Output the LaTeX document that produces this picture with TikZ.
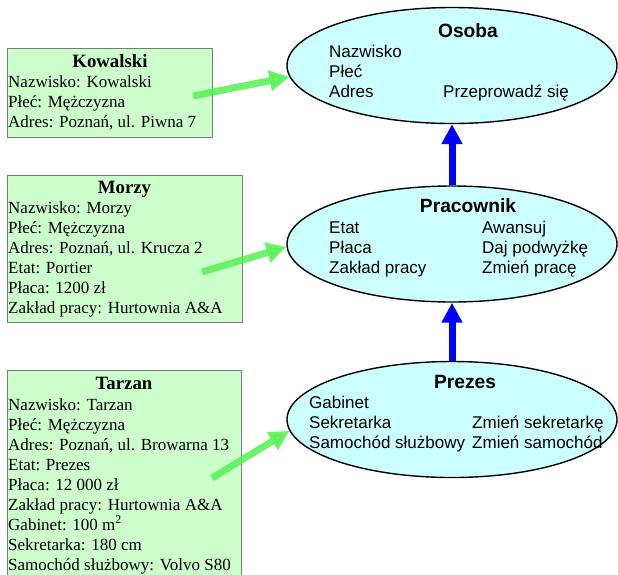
\documentclass[tikz,border=0pt]{standalone}
\usepackage{fontspec}
\setmainfont{Liberation Serif}
\setsansfont{Liberation Sans}
\usetikzlibrary{arrows.meta,shapes.geometric}
\definecolor{boxfill}{HTML}{CCFFCC}
\definecolor{boxline}{HTML}{7A7A7A}
\definecolor{ellfill}{HTML}{CCFFFF}
\definecolor{arrgreen}{HTML}{55F055}
\definecolor{arrblue}{HTML}{0000FF}
\tikzset{
  objbox/.style={draw=boxline, fill=boxfill, line width=1.2pt, anchor=north west, inner sep=0pt},
  classell/.style={ellipse, draw=black, fill=ellfill, line width=1.4pt, minimum width=330pt, minimum height=116pt, inner sep=0pt},
  serift/.style={font=\fontsize{17}{20}\selectfont, inner sep=0pt, align=left, anchor=base west},
  seriftitle/.style={font=\bfseries\fontsize{18.8}{20}\selectfont, inner sep=0pt, anchor=base},
  sanst/.style={font=\sffamily\fontsize{17}{20}\selectfont, inner sep=0pt, align=left, anchor=base west},
  sanstitle/.style={font=\sffamily\bfseries\fontsize{19.2}{20}\selectfont, inner sep=0pt, anchor=base},
  instarrow/.style={draw=arrgreen, line width=7pt, opacity=0.85, -{Triangle[length=20pt,width=20pt]}},
  inherarrow/.style={draw=arrblue, line width=7pt, -{Triangle[length=20pt,width=20pt]}},
}
\begin{document}
\begin{tikzpicture}[x=1pt,y=-1pt]
\useasboundingbox (0,0) rectangle (618,574);
\clip (0,0) rectangle (618,574);
% class ellipses
\node[classell] (osoba) at (452,65.5) {};
\node[classell] (pracownik) at (452,244) {};
\node[classell] (prezes) at (452,419.5) {};
% (multi-line nodes: base anchor = baseline of the last line)
\node[sanstitle] (osobaT) at (468,37) {Osoba};
\node[sanst] (osobaA) at (329,97) {Nazwisko\\Płeć\\Adres};
\node[sanst] (osobaM) at (443,97) {Przeprowadź się};
\node[sanstitle] (pracT) at (468,212) {Pracownik};
\node[sanst] (pracA) at (329,273) {Etat\\Płaca\\Zakład pracy};
\node[sanst] (pracM) at (482,273) {Awansuj\\Daj podwyżkę\\Zmień pracę};
\node[sanstitle] (prezT) at (465,388) {Prezes};
\node[sanst] (prezA) at (309,448) {Gabinet\\Sekretarka\\Samochód służbowy};
\node[sanst] (prezM) at (472,448) {Zmień sekretarkę\\Zmień samochód};
% object boxes
\node[objbox, minimum width=205pt, minimum height=89pt] (kow) at (7,48) {};
\node[seriftitle] (kowT) at (110,67) {Kowalski};
\node[serift] (kowA) at (8,127) {Nazwisko: Kowalski\\Płeć: Mężczyzna\\Adres: Poznań, ul. Piwna 7};
\node[objbox, minimum width=235pt, minimum height=147pt] (mor) at (7,175) {};
\node[seriftitle] (morT) at (124.5,193) {Morzy};
\node[serift] (morA) at (8,313) {Nazwisko: Morzy\\Płeć: Mężczyzna\\Adres: Poznań, ul. Krucza 2\\Etat: Portier\\Płaca: 1200 zł\\Zakład pracy: Hurtownia A\&A};
\node[objbox, minimum width=234pt, minimum height=220pt] (tar) at (7,370) {};
\node[seriftitle] (tarT) at (124,389) {Tarzan};
\node[serift] (tarA) at (8,570) {Nazwisko: Tarzan\\Płeć: Mężczyzna\\Adres: Poznań, ul. Browarna 13\\Etat: Prezes\\Płaca: 12 000 zł\\Zakład pracy: Hurtownia A\&A\\Gabinet: 100 m\textsuperscript{2}\\Sekretarka: 180 cm\\Samochód służbowy: Volvo S80};
% arrows
\coordinate (kowS) at (193,96);
\coordinate (morS) at (202,272);
\coordinate (tarS) at (212,478);
\draw[instarrow] (kowS) -- (osoba.184);
\draw[instarrow] (morS) -- (pracownik.181);
\draw[instarrow] (tarS) -- (prezes.184);
\draw[inherarrow] (pracownik.north) -- (osoba.south);
\draw[inherarrow] (prezes.north) -- (pracownik.south);
\end{tikzpicture}
\end{document}
